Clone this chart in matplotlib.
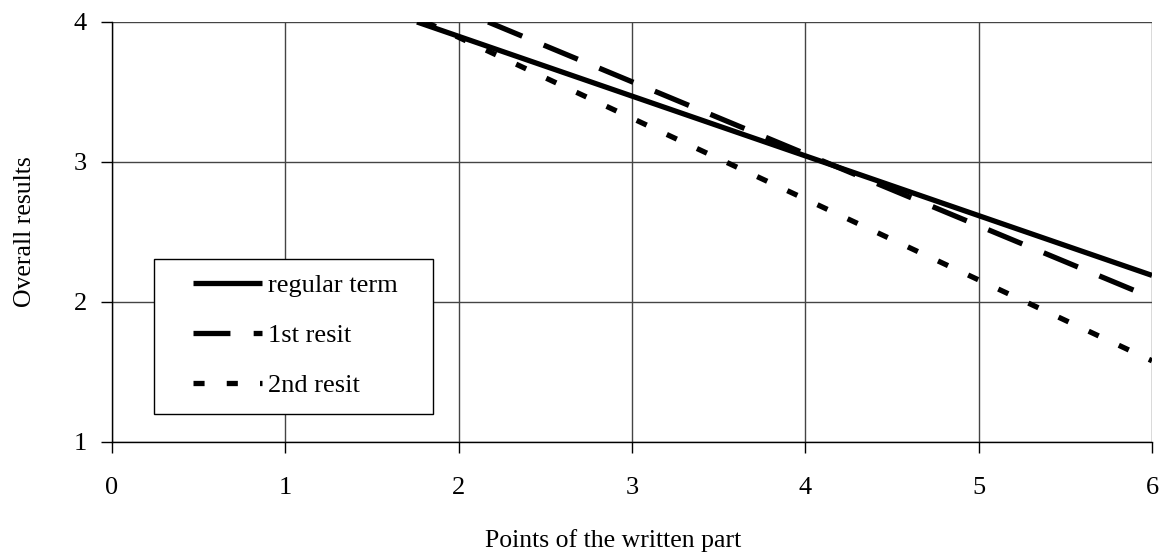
import numpy as np
import matplotlib
matplotlib.use('Agg')
import matplotlib.pyplot as plt
from matplotlib.patches import Rectangle

plt.rcParams['font.family'] = ['Liberation Serif', 'DejaVu Serif']

# straight lines, read where they enter the top of the plot and at x = 6
regular_x = [1.76, 6.0]
regular_y = [4.0, 2.19]
resit1_x = [2.17, 6.0]
resit1_y = [4.0, 2.03]
resit2_x = [1.81, 6.0]
resit2_y = [4.0, 1.58]

series_labels = ['regular term', '1st resit', '2nd resit']
x_ticks = [0, 1, 2, 3, 4, 5, 6]
y_ticks = [1, 2, 3, 4]

fig = plt.figure(figsize=(11.64, 5.54), dpi=100)
ax = fig.add_axes([0.0962, 0.2022, 0.8935, 0.7581])

lw = 3.8
ax.plot(regular_x, regular_y, color='black', lw=lw, solid_capstyle='butt',
        label=series_labels[0])
ax.plot(resit1_x, resit1_y, color='black', lw=lw, dashes=(7.0, 4.4),
        dash_capstyle='butt', label=series_labels[1])
ax.plot(resit2_x, resit2_y, color='black', lw=lw, dashes=(2.1, 4.2),
        dash_capstyle='butt', label=series_labels[2])

ax.set_xlim(0, 6)
ax.set_ylim(1, 4)
ax.set_xticks(x_ticks)
ax.set_yticks(y_ticks)
ax.grid(True, color='#444444', lw=1.0)
ax.set_axisbelow(True)
for s in ['top', 'right']:
    ax.spines[s].set_visible(False)
for s in ['left', 'bottom']:
    ax.spines[s].set_color('black')
    ax.spines[s].set_linewidth(1.0)
ax.tick_params(direction='out', length=8, width=1, labelsize=19)
ax.tick_params(axis='x', pad=17.5)
ax.tick_params(axis='y', pad=10)

ax.set_xlabel('Points of the written part', fontsize=18.5)
ax.xaxis.set_label_coords(0.482, -0.207)
ax.set_ylabel('Overall results', fontsize=18.5, labelpad=27)

# legend box (white, black border) with the entries placed inside
ax.add_patch(Rectangle((0.0404, 0.0667), 0.2683, 0.369, transform=ax.transAxes,
                       facecolor='white', edgecolor='black', lw=1.0, zorder=4))
leg = ax.legend(loc='upper left', bbox_to_anchor=(0.0779, 0.401),
                bbox_transform=ax.transAxes, borderaxespad=0, borderpad=0,
                fontsize=19, frameon=False, handlelength=2.6,
                handletextpad=0.25, labelspacing=1.0)
leg.set_zorder(5)

fig.savefig('out.png', dpi=100)
